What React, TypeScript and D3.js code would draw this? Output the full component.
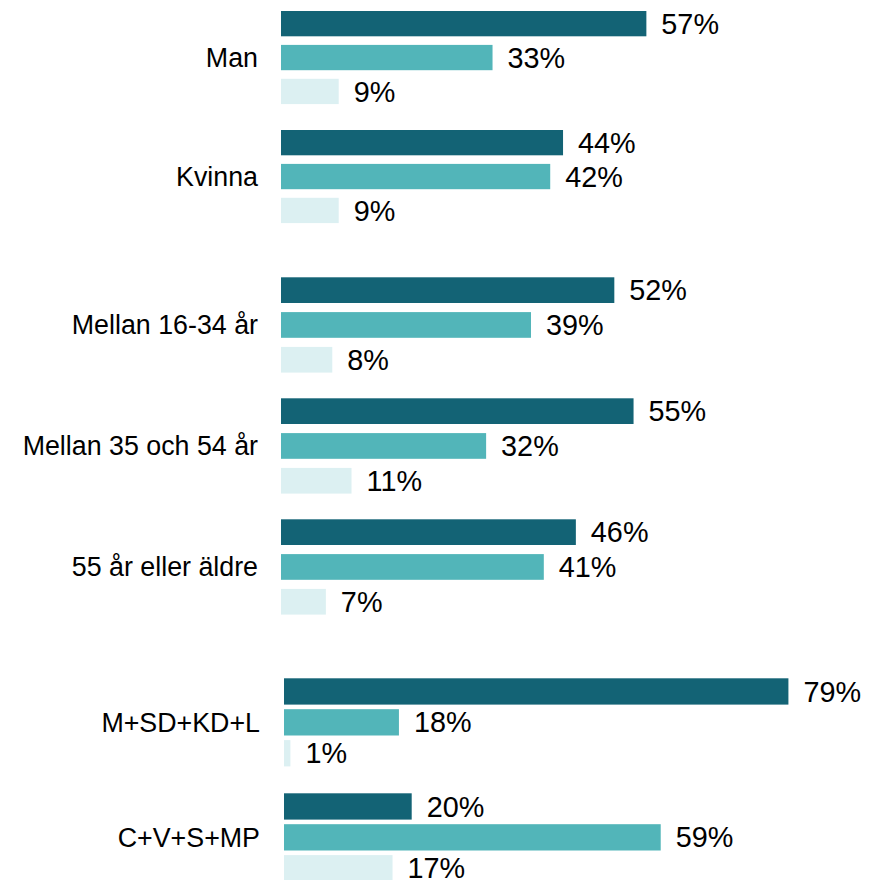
import React from "react";
import * as d3 from "d3";

// categories, one list per panel
const genderCats = ["Man", "Kvinna"];
const ageCats = ["Mellan 16-34 år", "Mellan 35 och 54 år", "55 år eller äldre"];
const partyCats = ["M+SD+KD+L", "C+V+S+MP"];

// series values (percent), per panel
const seriesKeys = ["s1", "s2", "s3"];
const genderS1 = [57, 44];
const genderS2 = [33, 42];
const genderS3 = [9, 9];
const ageS1 = [52, 55, 46];
const ageS2 = [39, 32, 41];
const ageS3 = [8, 11, 7];
const partyS1 = [79, 20];
const partyS2 = [18, 59];
const partyS3 = [1, 17];

const colors = ["#136375", "#52b5b9", "#dcf0f2"];
const font = "'Liberation Sans', Arial, sans-serif";

type Panel = {
  cats: string[];
  values: number[][];
  top: number;
  groupStep: number;
  barStep: number;
  barH: number;
  x0: number;
  pxPerPct: number;
  labelX: number;
};

const panels: Panel[] = [
  {
    cats: genderCats,
    values: [genderS1, genderS2, genderS3],
    top: 11,
    groupStep: 119,
    barStep: 33.9,
    barH: 25.3,
    x0: 281,
    pxPerPct: 6.41,
    labelX: 258,
  },
  {
    cats: ageCats,
    values: [ageS1, ageS2, ageS3],
    top: 277.3,
    groupStep: 121,
    barStep: 34.8,
    barH: 25.7,
    x0: 281,
    pxPerPct: 6.41,
    labelX: 258,
  },
  {
    cats: partyCats,
    values: [partyS1, partyS2, partyS3],
    top: 678.3,
    groupStep: 115,
    barStep: 30.9,
    barH: 26.3,
    x0: 284,
    pxPerPct: 6.385,
    labelX: 260,
  },
];

const PanelChart = ({ p }: { p: Panel }) => {
  const x = d3
    .scaleLinear()
    .domain([0, 100])
    .range([p.x0, p.x0 + 100 * p.pxPerPct]);
  const y0 = d3
    .scaleBand()
    .domain(p.cats)
    .range([p.top, p.top + p.cats.length * p.groupStep])
    .paddingInner(0)
    .paddingOuter(0)
    .align(0);
  const y1 = d3
    .scaleBand()
    .domain(seriesKeys)
    .range([0, 2 * p.barStep + p.barH])
    .paddingInner((p.barStep - p.barH) / p.barStep)
    .paddingOuter(0);
  const groupH = 2 * p.barStep + p.barH;

  return (
    <g>
      {p.cats.map((c, ci) => (
        <g key={c} transform={`translate(0, ${y0(c)})`}>
          <text
            x={p.labelX}
            y={groupH / 2}
            dy="0.35em"
            textAnchor="end"
            fontSize={26.8}
            fontFamily={font}
            fill="#000"
          >
            {c}
          </text>
          {seriesKeys.map((k, si) => {
            const v = p.values[si][ci];
            return (
              <g key={k}>
                <rect
                  x={x(0)}
                  y={y1(k)}
                  width={x(v) - x(0)}
                  height={y1.bandwidth()}
                  fill={colors[si]}
                />
                <text
                  x={x(v) + 15}
                  y={(y1(k) ?? 0) + y1.bandwidth() / 2}
                  dy="0.35em"
                  fontSize={28.8}
                  fontFamily={font}
                  fill="#000"
                >
                  {v}%
                </text>
              </g>
            );
          })}
        </g>
      ))}
    </g>
  );
};

export default function App() {
  return (
    <svg
      width={870}
      height={880}
      style={{ position: "absolute", left: 0, top: 0, background: "#fff" }}
    >
      {panels.map((p, i) => (
        <PanelChart key={i} p={p} />
      ))}
    </svg>
  );
}
